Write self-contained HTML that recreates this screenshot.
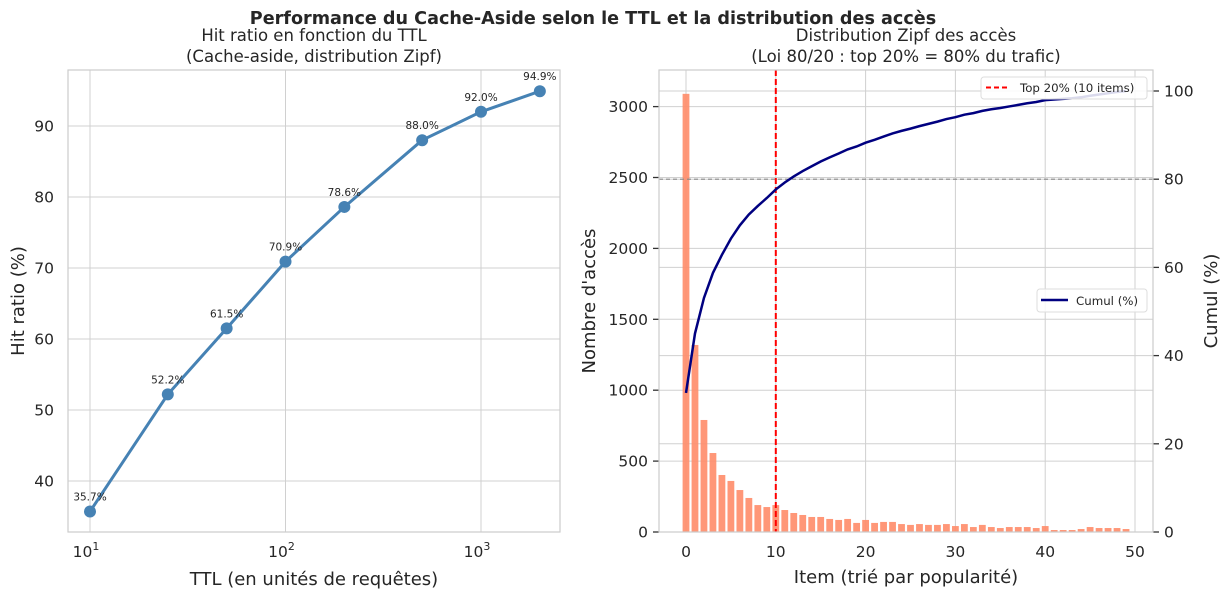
<!DOCTYPE html>
<html><head><meta charset="utf-8"><style>
body{margin:0;background:#fff;}
svg text{font-family:"DejaVu Sans","Liberation Sans",sans-serif;fill:#262626;}
</style></head><body>
<svg id="fig" width="1231" height="599" xmlns="http://www.w3.org/2000/svg">
<text x="593" y="24" text-anchor="middle" font-size="17.6" font-weight="bold">Performance du Cache-Aside selon le TTL et la distribution des accès</text>
<g id="left"></g>
<g id="right"></g>
</svg>
<script>
const ttlValues=[10,25,50,100,200,500,1000,2000];
const hitRatios=[35.7,52.2,61.5,70.9,78.6,88.0,92.0,94.9];
const hitTicks=[40,50,60,70,80,90];
const itemCounts=[3090,1319,790,557,402,360,296,240,190,176,190,155,134,120,106,106,92,85,92,64,85,64,71,71,56,50,56,50,50,56,42,56,35,50,35,28,35,35,35,28,42,14,14,14,21,35,28,28,28,21];
const countTicks=[0,500,1000,1500,2000,2500,3000];
const pctTicks=[0,20,40,60,80,100];
const itemTicks=[0,10,20,30,40,50];
const topN=10;
const threshold=80;

const NS="http://www.w3.org/2000/svg";
function mk(parent,tag,attrs,text){const e=document.createElementNS(NS,tag);for(const k in attrs)e.setAttribute(k,attrs[k]);if(text!==undefined)e.textContent=text;parent.appendChild(e);return e;}

// LEFT
const L=document.getElementById('left');
const lx0=68,lx1=560,ly0=70,ly1=532;
const lxs=v=>90+(Math.log10(v)-1)*195.5;
const lys=v=>481-(v-40)*7.1;
mk(L,'rect',{x:lx0,y:ly0,width:lx1-lx0,height:ly1-ly0,fill:'#fff'});
hitTicks.forEach(t=>{
 const l=mk(L,'line',{x1:lx0,x2:lx1,y1:lys(t),y2:lys(t),stroke:'#d0d0d0','stroke-width':1});
 
 const tx=mk(L,'text',{x:lx0-14,y:lys(t)+5.5,'text-anchor':'end','font-size':15.5},t);
 
});
[1,2,3].forEach(p=>{
 const x=lxs(Math.pow(10,p));
 const l=mk(L,'line',{x1:x,x2:x,y1:ly0,y2:ly1,stroke:'#d0d0d0','stroke-width':1});
 
 const t=mk(L,'text',{x:x-4,y:557,'text-anchor':'middle','font-size':15.5},'10');
 
 mk(t,'tspan',{dy:-7,'font-size':11},String(p));
});
mk(L,'rect',{x:lx0,y:ly0,width:lx1-lx0,height:ly1-ly0,fill:'none',stroke:'#cccccc','stroke-width':1.2});
const pts=ttlValues.map((v,i)=>lxs(v)+','+lys(hitRatios[i])).join(' ');
const pl=mk(L,'polyline',{points:pts,fill:'none',stroke:'#4682b4','stroke-width':3});

ttlValues.forEach((v,i)=>{
 const c=mk(L,'circle',{cx:lxs(v),cy:lys(hitRatios[i]),r:6,fill:'#4682b4'});
 
 const t=mk(L,'text',{x:lxs(v),y:lys(hitRatios[i])-11,'text-anchor':'middle','font-size':10.5},hitRatios[i].toFixed(1)+'%');
 
});
let t;
t=mk(L,'text',{x:314,y:41,'text-anchor':'middle','font-size':16.5},'Hit ratio en fonction du TTL');
t=mk(L,'text',{x:314,y:62,'text-anchor':'middle','font-size':16.5},'(Cache-aside, distribution Zipf)');
t=mk(L,'text',{x:314,y:585,'text-anchor':'middle','font-size':18},'TTL (en unités de requêtes)');
t=mk(L,'text',{x:24,y:301,'text-anchor':'middle','font-size':18,transform:'rotate(-90 24 301)'},'Hit ratio (%)');

// RIGHT
const R=document.getElementById('right');
const rx0=659,rx1=1153,ry0=70,ry1=532;
const rxs=v=>686+v*8.98;
const rys=v=>532-v*0.1418;
const rps=v=>532-v*4.41;
countTicks.forEach(c=>{
 const l=mk(R,'line',{x1:rx0,x2:rx1,y1:rys(c),y2:rys(c),stroke:'#d0d0d0','stroke-width':1});
 
 mk(R,'line',{x1:rx0-6,x2:rx0,y1:rys(c),y2:rys(c),stroke:'#333','stroke-width':1.3});
 const tx=mk(R,'text',{x:rx0-11,y:rys(c)+5.5,'text-anchor':'end','font-size':15.5},c);
 
});
pctTicks.forEach(p=>{
 const l=mk(R,'line',{x1:rx0,x2:rx1,y1:rps(p),y2:rps(p),stroke:'#d0d0d0','stroke-width':1});
 
 mk(R,'line',{x1:rx1,x2:rx1+6,y1:rps(p),y2:rps(p),stroke:'#333','stroke-width':1.3});
 const tx=mk(R,'text',{x:rx1+11,y:rps(p)+5.5,'font-size':15.5},p);
 
});
itemTicks.forEach(v=>{
 const l=mk(R,'line',{x1:rxs(v),x2:rxs(v),y1:ry0,y2:ry1,stroke:'#d0d0d0','stroke-width':1});
 
 const tx=mk(R,'text',{x:rxs(v),y:557,'text-anchor':'middle','font-size':15.5},v);
 
});
itemCounts.forEach((c,i)=>{
 const b=mk(R,'rect',{x:rxs(i)-3.4,y:rys(c),width:6.8,height:rys(0)-rys(c),fill:'#ff8c69',opacity:0.9});
 
});
const total=itemCounts.reduce((a,b)=>a+b,0);
let acc=0;const cum=itemCounts.map(c=>(acc+=c)/total*100);
mk(R,'line',{x1:rx0,x2:rx1,y1:rps(threshold),y2:rps(threshold),stroke:'#888','stroke-width':1.2,'stroke-dasharray':'4,3'});
const vl=mk(R,'line',{x1:rxs(topN),x2:rxs(topN),y1:ry0,y2:ry1,stroke:'#ff0000','stroke-width':2,'stroke-dasharray':'6,3'});

const cl=mk(R,'polyline',{points:cum.map((v,i)=>rxs(i)+','+rps(v)).join(' '),fill:'none',stroke:'#000080','stroke-width':2.5});

mk(R,'rect',{x:rx0,y:ry0,width:rx1-rx0,height:ry1-ry0,fill:'none',stroke:'#cccccc','stroke-width':1.2});
// legends
let lg=mk(R,'g',{});
mk(lg,'rect',{x:981,y:77,width:166,height:22,rx:3,fill:'#fff','fill-opacity':0.85,stroke:'#ddd'});
mk(lg,'line',{x1:986,x2:1010,y1:87.5,y2:87.5,stroke:'#ff0000','stroke-width':2,'stroke-dasharray':'5,3'});
mk(lg,'text',{x:1020,y:92,'font-size':11.8},'Top 20% (10 items)');
lg=mk(R,'g',{});
mk(lg,'rect',{x:1037,y:289,width:110,height:23,rx:3,fill:'#fff','fill-opacity':0.85,stroke:'#ddd'});
mk(lg,'line',{x1:1041,x2:1068,y1:300,y2:300,stroke:'#000080','stroke-width':2.5});
mk(lg,'text',{x:1076,y:305,'font-size':11.8},'Cumul (%)');
t=mk(R,'text',{x:906,y:41,'text-anchor':'middle','font-size':16.5},'Distribution Zipf des accès');
t=mk(R,'text',{x:906,y:62,'text-anchor':'middle','font-size':16.5},'(Loi 80/20 : top 20% = 80% du trafic)');
t=mk(R,'text',{x:906,y:583,'text-anchor':'middle','font-size':18},'Item (trié par popularité)');
t=mk(R,'text',{x:595,y:301,'text-anchor':'middle','font-size':18,transform:'rotate(-90 595 301)'},"Nombre d'accès");
t=mk(R,'text',{x:1217,y:301,'text-anchor':'middle','font-size':18,transform:'rotate(-90 1217 301)'},'Cumul (%)');
</script>
</body></html>
